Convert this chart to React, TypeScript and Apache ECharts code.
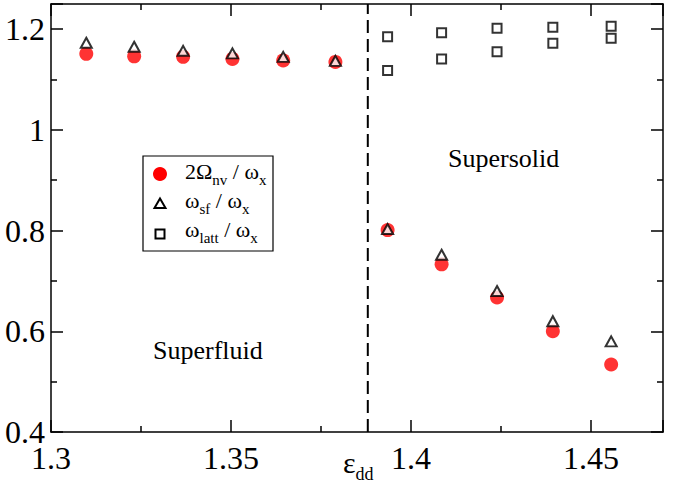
import React, { useEffect, useRef } from "react";
import * as echarts from "echarts";

// x positions (ε_dd)
const xSuperfluid = [1.3098, 1.3231, 1.3367, 1.3504, 1.3645, 1.379];
const xSupersolid = [1.3935, 1.4085, 1.4239, 1.4394, 1.4556];
// 2Ω_nv / ω_x
const nvSuperfluid = [1.151, 1.146, 1.145, 1.141, 1.138, 1.135];
const nvSupersolid = [0.801, 0.733, 0.667, 0.6, 0.534];
// ω_sf / ω_x
const sfSuperfluid = [1.173, 1.165, 1.157, 1.152, 1.145, 1.137];
const sfSupersolid = [0.803, 0.752, 0.68, 0.62, 0.58];
// ω_latt / ω_x (two branches)
const lattUpper = [1.185, 1.193, 1.202, 1.204, 1.206];
const lattLower = [1.118, 1.141, 1.155, 1.172, 1.182];
// transition
const transitionX = 1.388;

const xTicks = ["1.3", "1.35", "1.4", "1.45"];
const yTicks = ["0.4", "0.6", "0.8", "1", "1.2"];

const FONT = '"Liberation Serif", "Times New Roman", serif';

function measure(text: string, size: number) {
  const c = document.createElement("canvas");
  const ctx = c.getContext("2d")!;
  ctx.font = `${size}px "Liberation Serif"`;
  return ctx.measureText(text).width;
}

function richRow(pieces: [string, boolean][], x0: number, baseline: number, main: number, sub: number, subShift: number) {
  const out: any[] = [];
  let x = x0;
  for (const [t, isSub] of pieces) {
    const fs = isSub ? sub : main;
    const bl = isSub ? baseline + subShift : baseline;
    out.push({
      type: "text",
      x,
      y: bl - 0.3375 * fs,
      style: { text: t, font: `${fs}px ${FONT}`, fill: "#000", verticalAlign: "middle", align: "left" },
      z: 100,
    });
    x += measure(t, fs);
  }
  return out;
}

const fmtX = (v: number) => {
  const s = String(parseFloat(v.toFixed(3)));
  return xTicks.includes(s) ? s : "";
};
const fmtY = (v: number) => {
  const s = String(parseFloat(v.toFixed(3)));
  return yTicks.includes(s) ? s : "";
};

export default function App() {
  const ref = useRef<HTMLDivElement>(null);
  useEffect(() => {
    if (!ref.current) return;
    const chart = echarts.init(ref.current, undefined, { renderer: "svg" });
    const axisLine = { show: true, onZero: false, lineStyle: { color: "#000", width: 1.5 } };
    const tick = { show: true, inside: true, length: 12, lineStyle: { color: "#000", width: 1.5 } };
    const minor = { show: true, splitNumber: 2, length: 6, lineStyle: { color: "#000", width: 1.5 } };
    const xBase = { type: "value", min: 1.3, max: 1.47, interval: 0.05, splitLine: { show: false }, axisLine, axisTick: tick, minorTick: minor };
    const yBase = { type: "value", min: 0.4, max: 1.25, interval: 0.2, splitLine: { show: false }, axisLine, axisTick: tick, minorTick: minor };

    const legendX = 143, legendY = 156;
    const graphics: any[] = [
      { type: "rect", shape: { x: legendX, y: legendY, width: 130, height: 95 }, style: { fill: "#fff", stroke: "#000", lineWidth: 1.2 }, z: 90 },
      { type: "circle", shape: { cx: 160, cy: 174, r: 7 }, style: { fill: "#ff0000" }, z: 100 },
      { type: "polygon", shape: { points: [[160, 198.5], [165.5, 208], [154.5, 208]] }, style: { fill: "#fff", stroke: "#000", lineWidth: 2 }, z: 100 },
      { type: "rect", shape: { x: 155.5, y: 229.5, width: 9, height: 9 }, style: { fill: "#fff", stroke: "#000", lineWidth: 2 }, z: 100 },
      ...richRow([["2Ω", false], ["nv", true], [" / ω", false], ["x", true]], 185, 179, 22, 15, 6),
      ...richRow([["ω", false], ["sf", true], [" / ω", false], ["x", true]], 185, 208, 22, 15, 6),
      ...richRow([["ω", false], ["latt", true], [" / ω", false], ["x", true]], 185, 237, 22, 15, 6),
      { type: "text", x: 448, y: 158, style: { text: "Supersolid", font: `26px ${FONT}`, fill: "#000", verticalAlign: "middle" }, z: 100 },
      { type: "text", x: 153, y: 350, style: { text: "Superfluid", font: `26px ${FONT}`, fill: "#000", verticalAlign: "middle" }, z: 100 },
      ...richRow([["ε", false], ["dd", true]], 343, 473, 30, 18, 7),
    ];

    chart.setOption({
      animation: false,
      textStyle: { fontFamily: FONT },
      grid: { left: 51, right: 11, top: 4, bottom: 57, containLabel: false },
      xAxis: [
        { ...xBase, position: "bottom", axisLabel: { show: true, color: "#000", fontSize: 32, lineHeight: 24, fontFamily: FONT, margin: 14, formatter: fmtX } },
        { ...xBase, position: "top", axisLabel: { show: false } },
      ],
      yAxis: [
        { ...yBase, position: "left", axisLabel: { show: true, color: "#000", fontSize: 32, lineHeight: 24, fontFamily: FONT, margin: 6, formatter: fmtY } },
        { ...yBase, position: "right", axisLabel: { show: false } },
      ],
      series: [
        {
          type: "line",
          data: [[transitionX, 0.4], [transitionX, 1.25]],
          symbol: "none",
          lineStyle: { color: "#000", width: 2, type: [13, 6] },
          z: 1,
        },
        {
          type: "scatter",
          name: "nv",
          symbol: "circle",
          symbolSize: 14,
          itemStyle: { color: "#ff0000" },
          data: [...xSuperfluid.map((x, i) => [x, nvSuperfluid[i]]), ...xSupersolid.map((x, i) => [x, nvSupersolid[i]])],
          z: 2,
        },
        {
          type: "scatter",
          name: "sf",
          symbol: "triangle",
          symbolSize: [11, 10],
          itemStyle: { color: "#fff", borderColor: "#000", borderWidth: 2 },
          data: [...xSuperfluid.map((x, i) => [x, sfSuperfluid[i]]), ...xSupersolid.map((x, i) => [x, sfSupersolid[i]])],
          z: 3,
        },
        {
          type: "scatter",
          name: "latt",
          symbol: "rect",
          symbolSize: 9,
          itemStyle: { color: "#fff", borderColor: "#000", borderWidth: 2 },
          data: [...xSupersolid.map((x, i) => [x, lattUpper[i]]), ...xSupersolid.map((x, i) => [x, lattLower[i]])],
          z: 3,
        },
      ],
      graphic: graphics,
    });
    return () => chart.dispose();
  }, []);
  return <div ref={ref} style={{ position: "absolute", left: 0, top: 0, width: 674, height: 489 }} />;
}
